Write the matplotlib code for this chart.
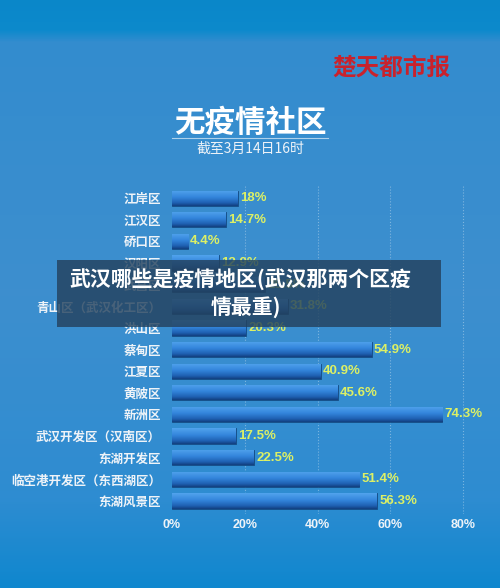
import numpy as np
import matplotlib.pyplot as plt
from matplotlib.lines import Line2D
from matplotlib.patches import Rectangle

plt.rcParams['font.family'] = ['Noto Sans CJK SC', 'DejaVu Sans']

# -------------------------
# dados
# -------------------------
districts = ['江岸区', '江汉区', '硚口区', '汉阳区', '武昌区', '青山区（武汉化工区）',
             '洪山区', '蔡甸区', '江夏区', '黄陂区', '新洲区', '武汉开发区（汉南区）',
             '东湖开发区', '临空港开发区（东西湖区）', '东湖风景区']
values = [18, 14.7, 4.4, 12.9, 25.5, 31.8, 20.3, 54.9, 40.9, 45.6, 74.3, 17.5, 22.5, 51.4, 56.3]
value_labels = ['18%', '14.7%', '4.4%', '12.9%', '25.5%', '31.8%', '20.3%', '54.9%',
                '40.9%', '45.6%', '74.3%', '17.5%', '22.5%', '51.4%', '56.3%']
xticks = [0, 20, 40, 60, 80]

fig = plt.figure(figsize=(5, 5.88), dpi=100)

# fundo em degradê
bg = fig.add_axes([0, 0, 1, 1], zorder=0)
stops_y = [0, 0.05, 0.07, 0.5, 0.85, 1.0]
stops_c = [(0.04, 0.53, 0.79), (0.05, 0.54, 0.80), (0.20, 0.55, 0.81),
           (0.24, 0.56, 0.81), (0.18, 0.55, 0.82), (0.06, 0.53, 0.81)]
yy = np.linspace(0, 1, 300)
grad = np.stack([np.interp(yy, stops_y, [c[i] for c in stops_c]) for i in range(3)], axis=-1)
bg.imshow(grad[:, None, :], aspect='auto', extent=[0, 1, 1, 0])
bg.set_xlim(0, 1)
bg.set_ylim(1, 0)
bg.axis('off')

# -------------------------
# gráfico de barras
# -------------------------
ax = fig.add_axes([0.344, 0.126, 0.597, 0.559], zorder=1)
ax.patch.set_alpha(0)
y = np.arange(len(districts))
bars = ax.barh(y, values, height=0.7, color='#2a80d6', edgecolor='#13487f', linewidth=0.6, zorder=3)

# degradê dentro de cada barra
cmap_grad = np.array([[0.32, 0.64, 0.93], [0.20, 0.52, 0.86], [0.12, 0.38, 0.70], [0.07, 0.25, 0.50]])
gy = np.linspace(0, 1, 50)
bar_grad = np.stack([np.interp(gy, [0, 0.45, 0.8, 1], cmap_grad[:, i]) for i in range(3)], axis=-1)
for b in bars:
    x0, y0, w, h = b.get_x(), b.get_y(), b.get_width(), b.get_height()
    im = ax.imshow(bar_grad[:, None, :], aspect='auto', extent=[x0, x0 + w, y0 + h, y0], zorder=4)
    im.set_clip_path(b)

for yi, v, lab in zip(y, values, value_labels):
    ax.text(v + 0.6, yi, lab, va='center', ha='left', color='#dcf065',
            fontsize=9.5, fontweight='bold', family='Liberation Sans', zorder=5)

ax.set_xlim(0, 82)
ax.set_ylim(len(districts) - 0.4, -0.6)
ax.set_yticks(y)
ax.set_yticklabels(districts, color='#eef3f8', fontsize=9, fontweight='bold')
ax.set_xticks(xticks)
ax.set_xticklabels([f'{t}%' for t in xticks], color='#eef3f8', fontsize=9,
                   fontweight='bold', family='Liberation Sans')
ax.tick_params(length=0)
ax.tick_params(axis='y', pad=8)
ax.tick_params(axis='x', pad=4)
for t in xticks[1:]:
    ax.axvline(t, color='white', alpha=0.35, linestyle=':', linewidth=0.8, zorder=1)
for s in ax.spines.values():
    s.set_visible(False)

# -------------------------
# títulos e marca d'água
# -------------------------
fig.text(0.5, 1 - 123 / 588, '无疫情社区', ha='center', va='center', color='white',
         fontsize=22, fontweight='bold')
fig.add_artist(Line2D([0.344, 0.656], [1 - 138 / 588] * 2, color='white', alpha=0.6, linewidth=0.8))
fig.text(0.5, 1 - 149 / 588, '截至3月14日16时', ha='center', va='center', color='#eef3f8', fontsize=10)
fig.text(0.783, 1 - 68 / 588, '楚天都市报', ha='center', va='center', color='#c9222c',
         fontsize=17, fontweight='bold', style='italic')

# faixa escura sobreposta
fig.add_artist(Rectangle((57 / 500, 1 - 327 / 588), (441 - 57) / 500, 67 / 588,
                         transform=fig.transFigure, facecolor='#24425e', alpha=0.82,
                         edgecolor='none', zorder=10))
fig.text(0.48, 1 - 279 / 588, '武汉哪些是疫情地区(武汉那两个区疫', ha='center', va='center',
         color='white', fontsize=15, fontweight='bold', zorder=11)
fig.text(0.492, 1 - 307 / 588, '情最重)', ha='center', va='center',
         color='white', fontsize=15, fontweight='bold', zorder=11)

fig.savefig('out.png', dpi=100)
